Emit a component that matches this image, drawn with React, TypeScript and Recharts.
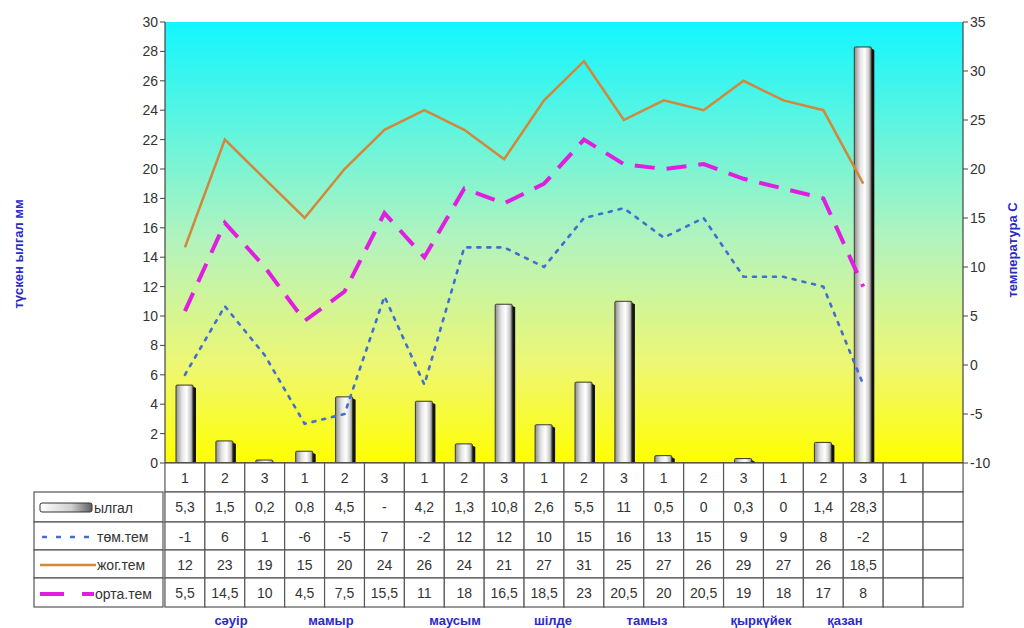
import { ComposedChart, Bar, Line, XAxis, YAxis, CartesianGrid } from 'recharts';

// categories: 10-day periods (декада) per month, last two columns empty
const categories = ['1', '2', '3', '1', '2', '3', '1', '2', '3', '1', '2', '3', '1', '2', '3', '1', '2', '3', '1', ''];
const rain = [5.3, 1.5, 0.2, 0.8, 4.5, null, 4.2, 1.3, 10.8, 2.6, 5.5, 11, 0.5, 0, 0.3, 0, 1.4, 28.3];
const minTemp = [-1, 6, 1, -6, -5, 7, -2, 12, 12, 10, 15, 16, 13, 15, 9, 9, 8, -2];
const maxTemp = [12, 23, 19, 15, 20, 24, 26, 24, 21, 27, 31, 25, 27, 26, 29, 27, 26, 18.5];
const avgTemp = [5.5, 14.5, 10, 4.5, 7.5, 15.5, 11, 18, 16.5, 18.5, 23, 20.5, 20, 20.5, 19, 18, 17, 8];
const months = ['сәуір', 'мамыр', 'маусым', 'шілде', 'тамыз', 'қыркүйек', 'қазан'];
const leftTicks = [0, 2, 4, 6, 8, 10, 12, 14, 16, 18, 20, 22, 24, 26, 28, 30];
const rightTicks = [-10, -5, 0, 5, 10, 15, 20, 25, 30, 35];

const data = categories.map((c, i) => ({
  cat: c,
  rain: i < rain.length ? rain[i] : undefined,
  min: minTemp[i],
  max: maxTemp[i],
  avg: avgTemp[i],
}));

const FONT = '"Liberation Sans", Arial, sans-serif';
const PLOT_LEFT = 163;
const PLOT_RIGHT = 963;
const COL_W = (PLOT_RIGHT - PLOT_LEFT) / categories.length;
const ROWS = [463, 492, 522, 550, 578, 607];
const BORDER = '#555';

const fmt = (v: number | null | undefined) =>
  v === null ? '-' : v === undefined ? '' : String(v).replace('.', ',');

const BarShape = (props: any) => {
  const { x, y, width, height } = props;
  if (!height || height <= 0) return null;
  return (
    <g>
      <polygon
        points={`${x + width - 1},${y + 1} ${x + width + 3},${y + 3} ${x + width + 3},${y + height} ${x + width - 1},${y + height}`}
        fill="#111"
      />
      <rect x={x} y={y} width={width} height={height} fill="url(#barGrad)" stroke="#3a3a2a" strokeWidth={1} rx={1} />
    </g>
  );
};

const TableTick = (props: any) => {
  const { x, payload } = props;
  const i = payload.index;
  const left = x - COL_W / 2;
  const cells = [categories[i], fmt(i < rain.length ? rain[i] : undefined), fmt(minTemp[i]), fmt(maxTemp[i]), fmt(avgTemp[i])];
  return (
    <g>
      {cells.map((t, r) => (
        <g key={r}>
          <rect x={left} y={ROWS[r]} width={COL_W} height={ROWS[r + 1] - ROWS[r]} fill="#fff" stroke={BORDER} strokeWidth={1.2} />
          <text x={x} y={ROWS[r] + 20} textAnchor="middle" fontSize={14} fill="#333" fontFamily={FONT}>
            {t}
          </text>
        </g>
      ))}
    </g>
  );
};

const monthPos = [1.7, 4.2, 7.3, 9.75, 12.1, 14.95, 17.05];

export default function App() {
  return (
    <div style={{ position: 'absolute', left: 0, top: 0, width: 1024, height: 628, background: '#fff' }}>
      <ComposedChart
        width={1024}
        height={628}
        data={data}
        margin={{ top: 22, right: 21, left: 123, bottom: 20 }}
        barCategoryGap={0}
      >
        <defs>
          <linearGradient id="bgGrad" x1="0" y1="0" x2="0" y2="1">
            <stop offset="0" stopColor="#12f6ff" />
            <stop offset="0.5" stopColor="#b4f3bc" />
            <stop offset="0.78" stopColor="#eef772" />
            <stop offset="1" stopColor="#ffff00" />
          </linearGradient>
          <linearGradient id="barGrad" x1="0" y1="0" x2="1" y2="0">
            <stop offset="0" stopColor="#8e8e8e" />
            <stop offset="0.35" stopColor="#e4e4e4" />
            <stop offset="0.62" stopColor="#ffffff" />
            <stop offset="0.85" stopColor="#cdcdcd" />
            <stop offset="1" stopColor="#7a7a7a" />
          </linearGradient>
          <linearGradient id="legGrad" x1="0" y1="0" x2="1" y2="0">
            <stop offset="0" stopColor="#ffffff" />
            <stop offset="0.6" stopColor="#d0d0d0" />
            <stop offset="1" stopColor="#606060" />
          </linearGradient>
        </defs>
        <CartesianGrid horizontal={false} vertical={false} fill="url(#bgGrad)" stroke="none" />
        <XAxis
          dataKey="cat"
          allowDuplicatedCategory
          interval={0}
          height={145}
          tickSize={0}
          tickMargin={0}
          axisLine={{ stroke: '#333', strokeWidth: 1.5 }}
          tick={<TableTick />}
        />
        <YAxis
          yAxisId="left"
          domain={[0, 30]}
          ticks={leftTicks}
          width={42}
          interval={0}
          axisLine={{ stroke: '#444', strokeWidth: 1.2 }}
          tickLine={{ stroke: '#444' }}
          tickSize={5}
          tick={{ fill: '#333', fontSize: 14, fontFamily: FONT }}
        />
        <YAxis
          yAxisId="right"
          orientation="right"
          domain={[-10, 35]}
          ticks={rightTicks}
          width={40}
          interval={0}
          axisLine={{ stroke: '#444', strokeWidth: 1.2 }}
          tickLine={{ stroke: '#444' }}
          tickSize={5}
          tick={{ fill: '#333', fontSize: 14, fontFamily: FONT }}
        />
        <Bar yAxisId="left" dataKey="rain" barSize={17} shape={<BarShape />} isAnimationActive={false} />
        <Line
          yAxisId="right"
          dataKey="max"
          stroke="#d2873a"
          strokeWidth={2.5}
          dot={false}
          isAnimationActive={false}
        />
        <Line
          yAxisId="right"
          dataKey="avg"
          stroke="#e01ee0"
          strokeWidth={4}
          strokeDasharray="20 12"
          dot={false}
          isAnimationActive={false}
        />
        <Line
          yAxisId="right"
          dataKey="min"
          stroke="#3f6fd2"
          strokeWidth={2.6}
          strokeDasharray="3 7"
          strokeLinecap="round"
          dot={false}
          isAnimationActive={false}
        />
        <g>
          {ROWS.slice(1, 5).map((y0, r) => (
            <rect key={r} x={34} y={y0} width={PLOT_LEFT - 34} height={ROWS[r + 2] - y0} fill="#fff" stroke={BORDER} strokeWidth={1.2} />
          ))}
          <rect x={40} y={503} width={52} height={9} rx={2} fill="url(#legGrad)" stroke="#333" strokeWidth={1} />
          <text x={94} y={513} fontSize={14} fill="#333" fontFamily={FONT}>ылгал</text>
          <line x1={42} y1={537} x2={96} y2={537} stroke="#3f6fd2" strokeWidth={2.5} strokeDasharray="5 9" />
          <text x={97} y={542} fontSize={14} fill="#333" fontFamily={FONT}>төм.тем</text>
          <line x1={40} y1={565} x2={96} y2={565} stroke="#d2873a" strokeWidth={2.5} />
          <text x={97} y={570} fontSize={14} fill="#333" fontFamily={FONT}>жог.тем</text>
          <line x1={40} y1={594} x2={94} y2={594} stroke="#e01ee0" strokeWidth={4} strokeDasharray="24 18" />
          <text x={95} y={599} fontSize={14} fill="#333" fontFamily={FONT}>орта.тем</text>
          {months.map((m, i) => (
            <text key={m} x={PLOT_LEFT + COL_W * monthPos[i]} y={625} textAnchor="middle" fontSize={13} fontWeight="bold" fill="#2a2ac8" fontFamily={FONT}>
              {m}
            </text>
          ))}
          <text x={23} y={254} transform="rotate(-90 23 254)" textAnchor="middle" fontSize={13} fontWeight="bold" fill="#2a2ac8" fontFamily={FONT}>
            түскен ылгал мм
          </text>
          <text x={1017} y={250} transform="rotate(-90 1017 250)" textAnchor="middle" fontSize={13} fontWeight="bold" fill="#2a2ac8" fontFamily={FONT}>
            температура С
          </text>
        </g>
      </ComposedChart>
    </div>
  );
}
